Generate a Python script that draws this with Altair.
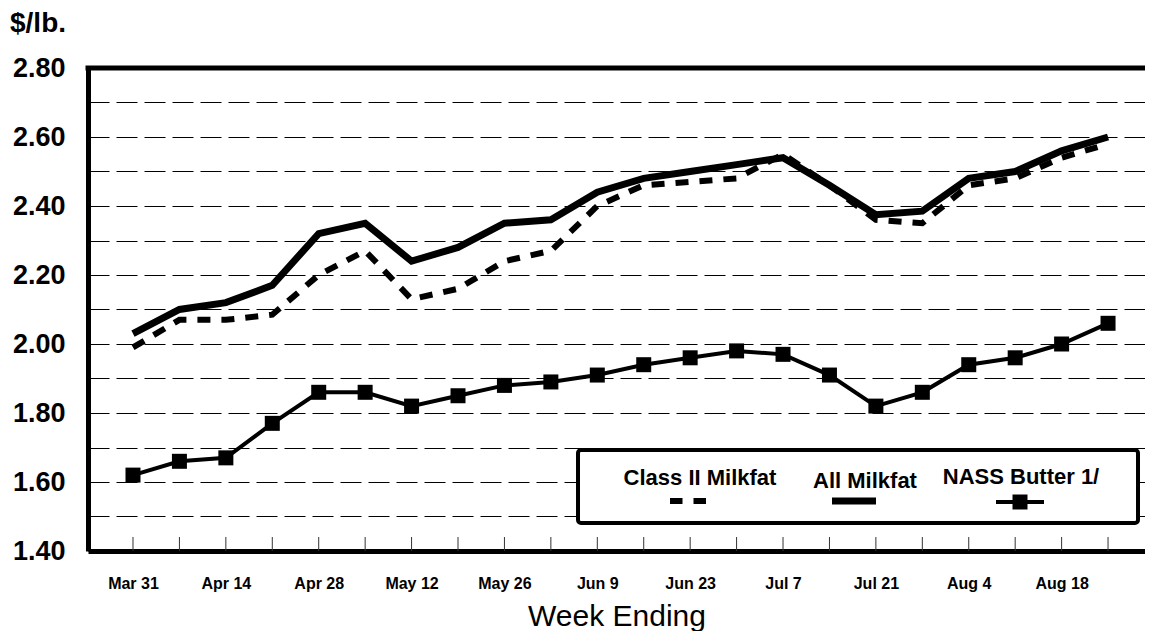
import json
import altair as alt
import pandas as pd

# ---- data ----
weeks = ["Mar 31", "Apr 7", "Apr 14", "Apr 21", "Apr 28", "May 5", "May 12",
         "May 19", "May 26", "Jun 2", "Jun 9", "Jun 16", "Jun 23", "Jun 30",
         "Jul 7", "Jul 14", "Jul 21", "Jul 28", "Aug 4", "Aug 11", "Aug 18",
         "Aug 25"]
all_milkfat = [2.03, 2.10, 2.12, 2.17, 2.32, 2.35, 2.24, 2.28, 2.35, 2.36, 2.44,
               2.48, 2.50, 2.52, 2.54, 2.46, 2.375, 2.385, 2.48, 2.50, 2.56, 2.60]
class2_milkfat = [1.99, 2.07, 2.07, 2.085, 2.20, 2.27, 2.13, 2.16, 2.24, 2.27, 2.40,
                  2.46, 2.47, 2.48, 2.55, 2.46, 2.36, 2.35, 2.46, 2.48, 2.54, 2.58]
nass_butter = [1.62, 1.66, 1.67, 1.77, 1.86, 1.86, 1.82, 1.85, 1.88, 1.89, 1.91,
               1.94, 1.96, 1.98, 1.97, 1.91, 1.82, 1.86, 1.94, 1.96, 2.00, 2.06]
series_names = ["Class II Milkfat", "All Milkfat", "NASS Butter 1/"]
y_grid_values = [1.4, 1.5, 1.6, 1.7, 1.8, 1.9, 2.0, 2.1, 2.2, 2.3, 2.4, 2.5,
                 2.6, 2.7, 2.8]
y_unit = "$/lb."
x_title = "Week Ending"

FONT = "Liberation Sans, Arial, Helvetica, sans-serif"
W, H = 1057, 483

idx = list(range(len(weeks)))
df = pd.DataFrame({
    "i": idx,
    "week": weeks,
    "all": all_milkfat,
    "class2": class2_milkfat,
    "butter": nass_butter,
})
one = pd.DataFrame({"k": [0]})

x_scale = alt.Scale(domain=[-0.969, 21.796], nice=False, zero=False)
y_scale = alt.Scale(domain=[1.4, 2.8], nice=False, zero=False)

x_axis = alt.Axis(
    values=idx[::2],
    labelExpr=json.dumps(weeks) + "[datum.value]",
    title=x_title,
    grid=False,
    ticks=False,
    domainWidth=5,
    domainColor="black",
    labelFont=FONT,
    labelFontSize=16,
    labelFontWeight="bold",
    labelColor="black",
    labelPadding=24,
    labelFlush=False,
    labelOverlap=False,
    titleFont=FONT,
    titleFontSize=30,
    titleFontWeight="normal",
    titleColor="black",
    titleY=65,
    titleBaseline="middle",
)
y_axis = alt.Axis(
    values=y_grid_values,
    labelExpr="round(datum.value*10) % 2 == 0 ? format(datum.value, '.2f') : ''",
    title=None,
    grid=True,
    gridColor="black",
    gridDash=[21, 7],
    gridWidth=1,
    ticks=False,
    domainWidth=5,
    domainColor="black",
    labelFont=FONT,
    labelFontSize=27,
    labelFontWeight="bold",
    labelColor="black",
    labelPadding=23,
    labelFlush=False,
    labelOverlap=False,
)

X = alt.X("i:Q", scale=x_scale, axis=x_axis)


def Y(field):
    return alt.Y(f"{field}:Q", scale=y_scale, axis=y_axis)


base = alt.Chart(df)

week_ticks = base.mark_rule(color="#333333", strokeWidth=1).encode(
    x=X, y=alt.value(H - 14), y2=alt.value(H)
)
all_line = base.mark_line(color="black", strokeWidth=7, strokeJoin="miter").encode(
    x=X, y=Y("all")
)
class_line = base.mark_line(color="black", strokeWidth=6, strokeDash=[13, 11]).encode(
    x=X, y=Y("class2")
)
butter_line = base.mark_line(color="black", strokeWidth=4).encode(x=X, y=Y("butter"))
butter_pts = base.mark_square(size=225, color="black", opacity=1, filled=True).encode(
    x=X, y=Y("butter")
)

top_border = alt.Chart(one).mark_rule(color="black", strokeWidth=5).encode(
    x=alt.value(-2.5), x2=alt.value(W), y=alt.value(0)
)

unit_text = alt.Chart(one).mark_text(
    text=y_unit, font=FONT, fontSize=28, fontWeight="bold",
    align="left", baseline="alphabetic", color="black"
).encode(x=alt.value(-78), y=alt.value(-36))

# ---- legend (box, labels and symbols) ----
legend_box = alt.Chart(one).mark_rect(
    fill="white", stroke="black", strokeWidth=4, cornerRadius=3
).encode(x=alt.value(490), x2=alt.value(1050), y=alt.value(382), y2=alt.value(455))

legend_text_layers = []
for name, cx, cy in zip(series_names, [612, 777, 933], [410, 413, 409]):
    legend_text_layers.append(
        alt.Chart(one).mark_text(
            text=name, font=FONT, fontSize=22, fontWeight="bold",
            align="center", baseline="middle", color="black"
        ).encode(x=alt.value(cx), y=alt.value(cy))
    )

leg_dash = alt.Chart(one).mark_rule(color="black", strokeWidth=6, strokeDash=[12.5, 11]).encode(
    x=alt.value(582), x2=alt.value(619), y=alt.value(433)
)
leg_solid = alt.Chart(one).mark_rule(color="black", strokeWidth=7).encode(
    x=alt.value(744), x2=alt.value(788), y=alt.value(433)
)
leg_butter_line = alt.Chart(one).mark_rule(color="black", strokeWidth=4).encode(
    x=alt.value(908), x2=alt.value(956), y=alt.value(434)
)
leg_butter_pt = alt.Chart(one).mark_square(size=225, color="black", opacity=1, filled=True).encode(
    x=alt.value(932), y=alt.value(434)
)

chart = alt.layer(
    week_ticks, all_line, class_line, butter_line, butter_pts,
    top_border, unit_text, legend_box, *legend_text_layers,
    leg_dash, leg_solid, leg_butter_line, leg_butter_pt,
).properties(
    width=W,
    height=H,
    autosize=alt.AutoSizeParams(type="none"),
    padding={"left": 80, "top": 60, "right": 0, "bottom": 80},
    background="white",
).configure_view(stroke=None)

chart.save("out.html", embed_options={"renderer": "svg", "actions": False})
